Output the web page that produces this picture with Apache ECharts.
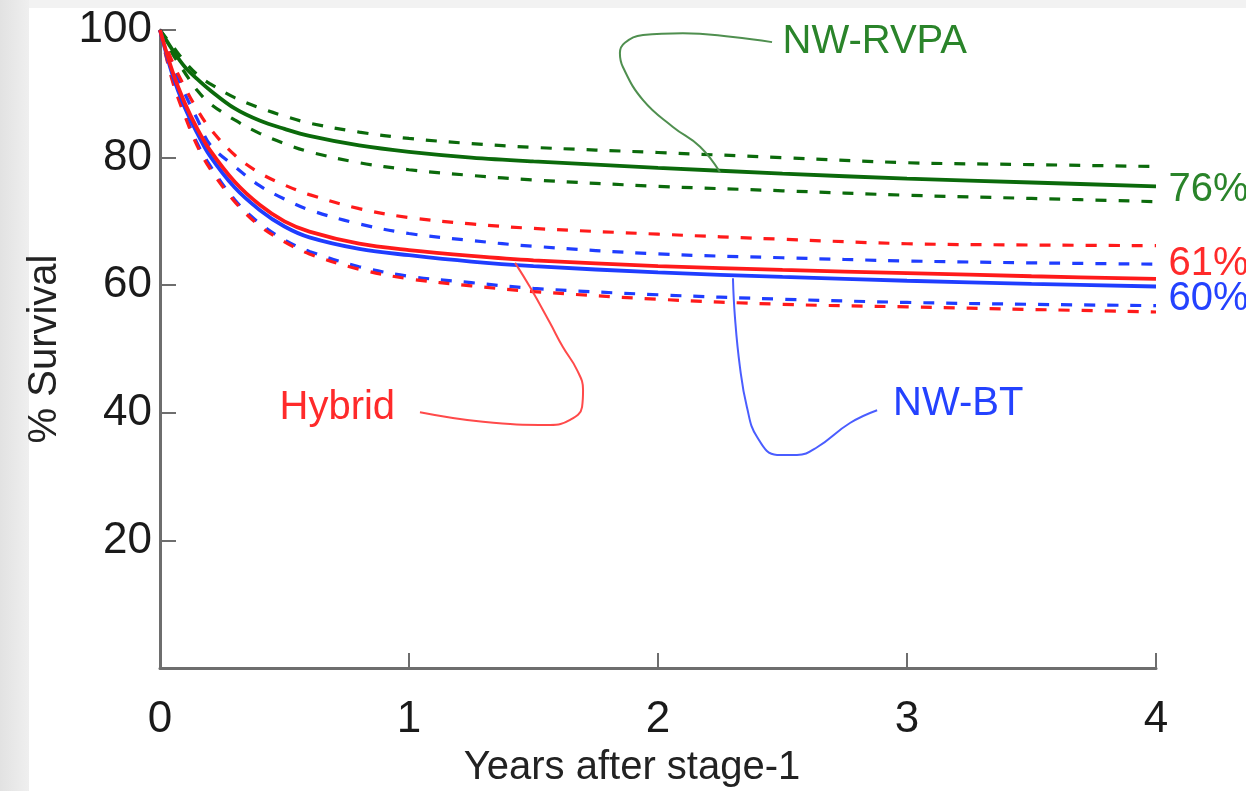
<!DOCTYPE html>
<html><head><meta charset="utf-8">
<script src="https://cdn.jsdelivr.net/npm/echarts@6/dist/echarts.min.js"></script>
<style>html,body{margin:0;padding:0;background:#fff}#c{width:1246px;height:791px}</style>
</head><body><div id="c"></div>
<script>
// ---- data ----
const years = [0,0.05,0.1,0.15,0.2,0.3,0.4,0.5,0.6,0.8,1,1.25,1.5,2,2.5,3,3.5,4];
const rvpaEst   = [100,96.9,94.2,92.3,90.6,87.7,85.8,84.5,83.4,81.9,80.9,80.0,79.4,78.4,77.5,76.7,76.1,75.5];
const rvpaUpper = [100,97.5,95.0,93.0,91.6,89.4,87.8,86.5,85.4,84.0,83.0,82.2,81.6,80.8,80.0,79.2,78.9,78.6];
const rvpaLower = [100,96.3,93.3,90.5,88.5,85.9,83.8,82.2,80.9,79.2,78.1,77.2,76.5,75.5,74.8,74.1,73.6,73.1];
const hybridEst   = [100,93.5,88.5,84.5,81.2,76.2,72.6,70.0,68.4,66.5,65.5,64.6,63.9,63.0,62.4,61.9,61.4,61.0];
const hybridUpper = [100,95.0,91.0,87.5,84.6,80.4,77.6,75.7,74.2,72.0,70.6,69.6,68.9,68.0,67.2,66.5,66.3,66.2];
const hybridLower = [100,92.0,86.5,81.8,78.3,73.1,69.3,66.8,64.9,62.5,61.0,59.9,59.0,57.8,57.0,56.6,56.2,55.8];
const btEst   = [100,93.0,87.8,83.8,80.3,75.3,71.8,69.2,67.5,65.7,64.7,63.7,63.0,62.0,61.3,60.7,60.2,59.8];
const btUpper = [100,94.5,90.0,86.0,82.1,78.6,75.6,73.5,71.8,69.6,68.1,67.0,66.1,64.9,64.3,63.8,63.5,63.3];
const btLower = [100,92.3,86.9,82.2,78.8,73.4,69.7,67.1,65.3,62.9,61.4,60.4,59.5,58.5,57.8,57.3,57.0,56.8];

const groupNames = ['NW-RVPA','Hybrid','NW-BT'];
const endPercents = ['76%','61%','60%'];
const xTicks = [0,1,2,3,4];
const yTicks = [20,40,60,80,100];
const xTitle = 'Years after stage-1';
const yTitle = '% Survival';

// leader (callout) paths, in data coordinates [years, %]
const rvpaLeader = [[2.458,98.1],[2.301,98.9],[2.100,99.5],[1.940,99.2],[1.867,98.0],[1.847,96.4],[1.859,94.2],[1.940,89.0],[2.060,84.8],[2.169,81.7],[2.249,77.7]];
const hybridLeader = [[1.044,40.1],[1.297,38.6],[1.566,38.1],[1.647,38.9],[1.695,40.9],[1.699,43.6],[1.675,46.7],[1.618,50.3],[1.566,54.1],[1.486,59.7],[1.426,63.5]];
const btLeader = [[2.301,61.1],[2.309,55.0],[2.329,47.2],[2.357,40.9],[2.398,36.2],[2.478,33.4],[2.558,33.4],[2.639,34.6],[2.771,38.4],[2.880,40.4]];
// label anchor positions (data coords: left edge, vertical middle)
const groupLabelPos = [[2.50,98.2],[0.48,40.8],[2.944,41.4]];
const endLabelPos = [[4.05,75.0],[4.05,63.4],[4.05,57.8]];

const COLORS = ['#0b6a0b','#ff1a1a','#1f3dff'];
const TEXTCOL = ['#2a842a','#ff2a2a','#2442ff'];
const LEADCOL = ['#4f8f4f','#ff4a4a','#4a5dff'];
const FONT = '"Liberation Sans", Arial, Helvetica, sans-serif';

const zip = a => years.map((t,i)=>[t,a[i]]);

function curve(data, color, dashed) {
  return {
    type:'line', data: zip(data), showSymbol:false, symbol:'none', silent:true,
    smooth:0.35, clip:false,
    lineStyle:{color, width: dashed?3.2:3.8, type: dashed?[11,12]:'solid'},
    z: dashed?3:4
  };
}
function leader(pts, color){
  return {type:'line', data: pts, showSymbol:false, symbol:'none', silent:true, smooth:0.45, clip:false,
    lineStyle:{color, width:2}, z:5};
}

const chart = echarts.init(document.getElementById('c'), null, {renderer:'canvas'});
const option = {
  backgroundColor:'#ffffff',
  animation:false,
  grid:{left:160, right:90, top:30, bottom:123, containLabel:false, outerBoundsMode:'none'},
  xAxis:{
    type:'value', min:0, max:4, interval:1,
    name:xTitle, nameLocation:'middle', nameGap:80,
    nameTextStyle:{fontFamily:FONT, fontSize:40, color:'#222', padding:[0,52,0,0]},
    axisLine:{show:true, lineStyle:{color:'#6e6e6e', width:3}},
    axisTick:{show:true, inside:true, length:15, lineStyle:{color:'#6e6e6e', width:2}},
    axisLabel:{fontFamily:FONT, fontSize:44, color:'#1a1a1a', margin:30,
      formatter:v=> xTicks.includes(v)? String(v):''},
    splitLine:{show:false}
  },
  yAxis:{
    type:'value', min:0, max:100, interval:20,
    name:yTitle, nameLocation:'middle', nameGap:95, nameRotate:90,
    nameTextStyle:{fontFamily:FONT, fontSize:40, color:'#222'},
    axisLine:{show:true, lineStyle:{color:'#6e6e6e', width:3}},
    axisTick:{show:true, inside:true, length:16, lineStyle:{color:'#6e6e6e', width:2}},
    axisLabel:{fontFamily:FONT, fontSize:44, color:'#1a1a1a', margin:8,
      formatter:v=> yTicks.includes(v)? String(v):''},
    splitLine:{show:false}
  },
  series:[
    curve(rvpaUpper, COLORS[0], true), curve(rvpaLower, COLORS[0], true), curve(rvpaEst, COLORS[0], false),
    curve(btUpper, COLORS[2], true), curve(btLower, COLORS[2], true),
    curve(hybridUpper, COLORS[1], true), curve(hybridLower, COLORS[1], true),
    curve(btEst, COLORS[2], false), curve(hybridEst, COLORS[1], false),
    leader(rvpaLeader, LEADCOL[0]), leader(hybridLeader, LEADCOL[1]), leader(btLeader, LEADCOL[2])
  ]
};
chart.setOption(option);

const g = [
  {type:'rect', silent:true, z:-1, shape:{x:0,y:0,width:1246,height:8}, style:{fill:'#f2f2f2'}},
  {type:'rect', silent:true, z:-1, shape:{x:0,y:0,width:29,height:791},
    style:{fill:new echarts.graphic.LinearGradient(0,0,1,0,[{offset:0,color:'#e2e2e2'},{offset:1,color:'#efefef'}])}}
];
groupNames.forEach((name,i)=>{
  const p = chart.convertToPixel({gridIndex:0}, groupLabelPos[i]);
  g.push({type:'text', silent:true, z:10, x:p[0], y:p[1],
    style:{text:name, fill:TEXTCOL[i], font:'40px '+FONT, textAlign:'left', textVerticalAlign:'middle'}});
});
endPercents.forEach((t,i)=>{
  const p = chart.convertToPixel({gridIndex:0}, endLabelPos[i]);
  g.push({type:'text', silent:true, z:10, x:p[0], y:p[1],
    style:{text:t, fill:TEXTCOL[i], font:'40px '+FONT, textAlign:'left', textVerticalAlign:'middle'}});
});
chart.setOption({graphic:g});
</script>
</body></html>
